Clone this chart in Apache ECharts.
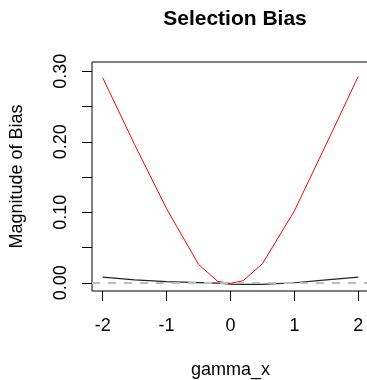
<!DOCTYPE html>
<html>
<head>
<meta charset="utf-8">
<script src="https://cdn.jsdelivr.net/npm/echarts@6/dist/echarts.min.js"></script>
<style>html,body{margin:0;padding:0;background:#fff}#c{width:367px;height:380px}</style>
</head>
<body>
<div id="c"></div>
<script>
var gammaX = [-2, -1.5, -1, -0.5, -0.2, 0, 0.2, 0.5, 1, 1.5, 2];
var redBias = [0.291, 0.196, 0.105, 0.026, 0.002, -0.001, 0.003, 0.027, 0.102, 0.197, 0.293];
var blackBias = [0.008, 0.004, 0.0015, 0.0003, -0.0005, -0.002, -0.0023, -0.0023, 0.0, 0.0042, 0.008];
var xTicks = [-2, -1, 0, 1, 2];
var yTicks = [0, 0.05, 0.10, 0.15, 0.20, 0.25, 0.30];
var yLabels = [0, 0.10, 0.20, 0.30];

function pairs(xs, ys) { return xs.map(function (x, i) { return [x, ys[i]]; }); }

var chart = echarts.init(document.getElementById('c'), null, {renderer: 'canvas'});
var font = 'Liberation Sans, Arial, sans-serif';
chart.setOption({
  animation: false,
  title: {
    text: 'Selection Bias', left: 230, top: 4, textAlign: 'center',
    textStyle: {fontFamily: font, fontSize: 21, fontWeight: 'bold', color: '#000'}
  },
  grid: {left: 92, top: 62, width: 277, height: 229, show: true, borderColor: '#000', borderWidth: 1, containLabel: false, outerBoundsMode: 'none'},
  xAxis: {
    type: 'value', min: -2.167, max: 2.167,
    name: 'gamma_x', nameLocation: 'middle', nameGap: 70,
    nameTextStyle: {fontFamily: font, fontSize: 18, color: '#000'},
    axisLine: {show: false, onZero: false},
    axisTick: {show: true, length: 10, lineStyle: {color: '#000'}, customValues: xTicks},
    axisLabel: {fontFamily: font, fontSize: 18, color: '#000', margin: 26, customValues: xTicks, formatter: function (v) { return String(v); }},
    splitLine: {show: false}
  },
  yAxis: {
    type: 'value', min: -0.0117, max: 0.3132,
    name: 'Magnitude of Bias', nameLocation: 'middle', nameGap: 66, nameRotate: 90,
    nameTextStyle: {fontFamily: font, fontSize: 18, color: '#000'},
    axisLine: {show: false, onZero: false},
    axisTick: {show: true, length: 10, lineStyle: {color: '#000'}, customValues: yTicks},
    axisLabel: {fontFamily: font, fontSize: 18, color: '#000', margin: 22, rotate: 90, customValues: yLabels, formatter: function (v) { return v.toFixed(2); }},
    splitLine: {show: false}
  },
  series: [
    {
      type: 'line', data: pairs(gammaX, blackBias), symbol: 'none',
      lineStyle: {color: '#222', width: 1.2}, z: 3,
      markLine: {
        silent: true, symbol: 'none', label: {show: false},
        lineStyle: {color: '#BEBEBE', width: 2, type: [8, 8]},
        data: [{yAxis: 0}]
      }
    },
    {
      type: 'line', data: pairs(gammaX, redBias), symbol: 'none',
      lineStyle: {color: '#FF0000', width: 1}, z: 4
    }
  ]
});
</script>
</body>
</html>
